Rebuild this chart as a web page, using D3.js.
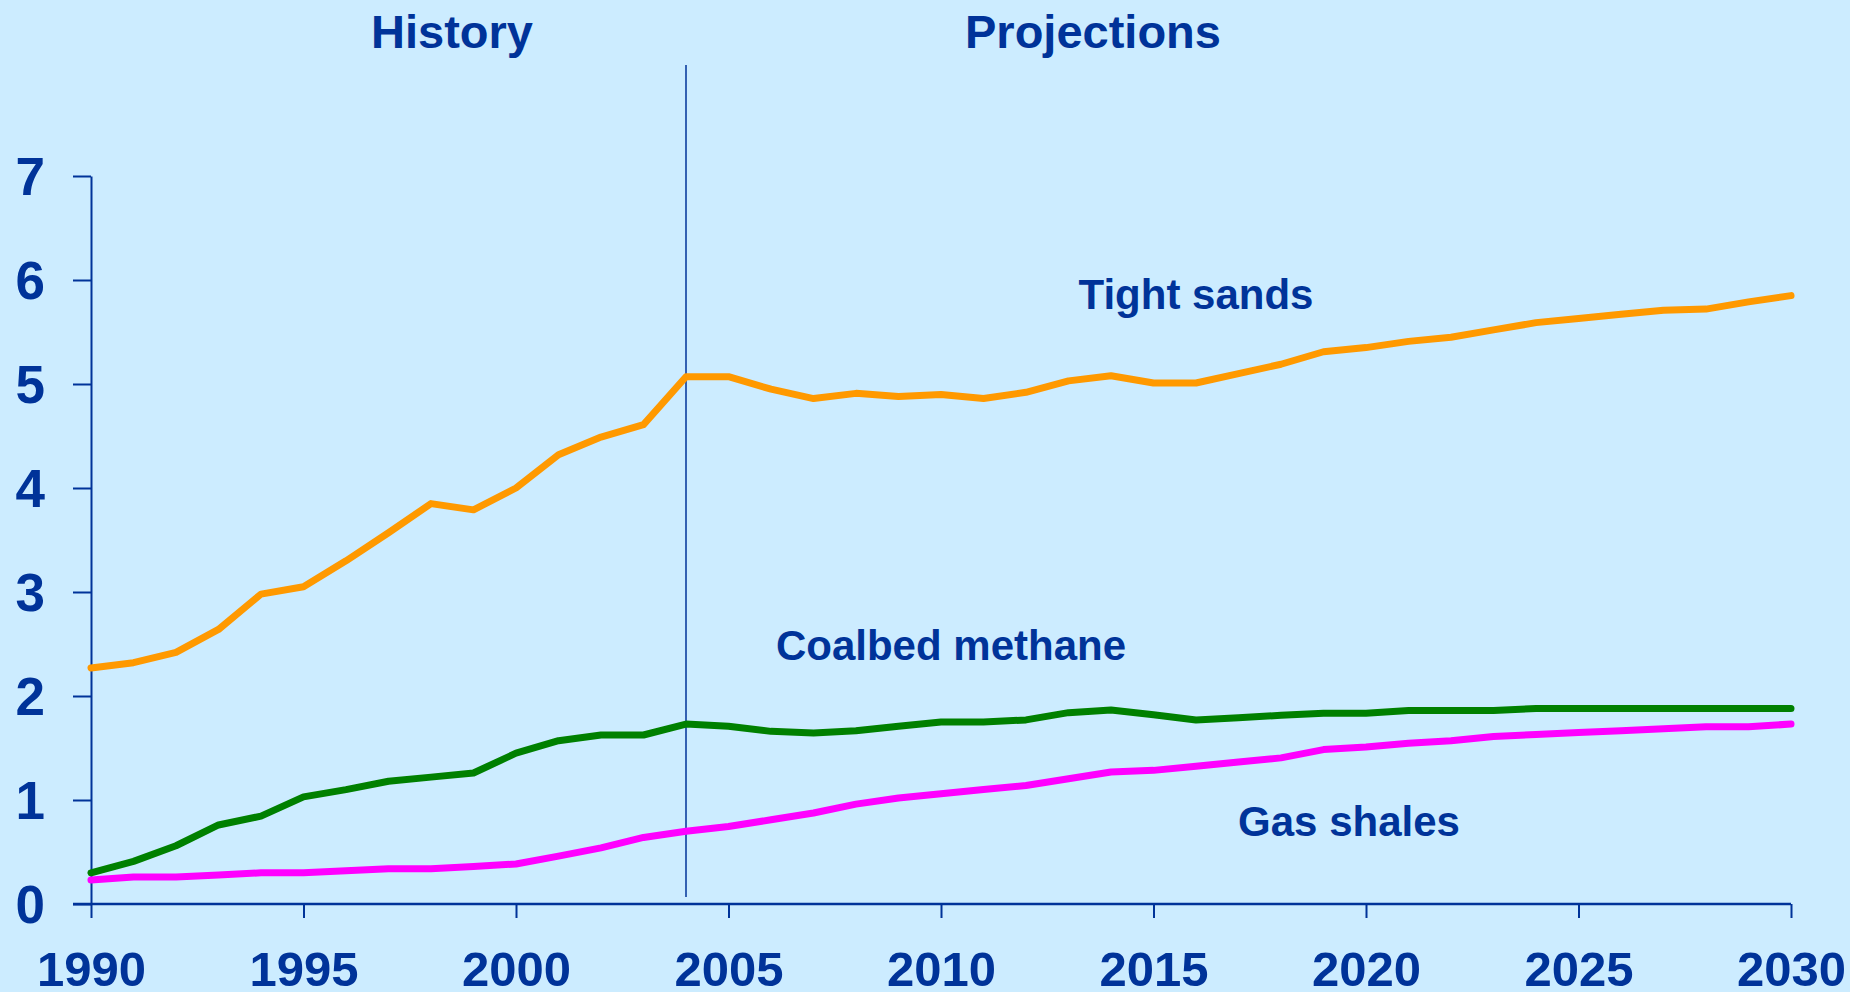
<!DOCTYPE html>
<html>
<head>
<meta charset="utf-8">
<script src="https://cdn.jsdelivr.net/npm/d3@7"></script>
<style>
  body { margin: 0; background: #CCECFF; }
  text { font-family: "Liberation Sans", Arial, sans-serif; font-weight: bold; fill: #003399; }
</style>
</head>
<body>
<div id="chart"></div>
<script>
// Data (trillion cubic feet)
const years = d3.range(1990, 2031);
const tightSands = [2.27, 2.32, 2.42, 2.64, 2.98, 3.05, 3.30, 3.57, 3.85, 3.79,
  4.00, 4.32, 4.49, 4.61, 5.07, 5.07, 4.95, 4.86, 4.91, 4.88,
  4.90, 4.86, 4.92, 5.03, 5.08, 5.01, 5.01, 5.10, 5.19, 5.31,
  5.35, 5.41, 5.45, 5.52, 5.59, 5.63, 5.67, 5.71, 5.72, 5.79, 5.85];
const coalbed = [0.30, 0.41, 0.56, 0.76, 0.845, 1.03, 1.10, 1.18, 1.22, 1.26,
  1.45, 1.57, 1.625, 1.625, 1.73, 1.71, 1.66, 1.645, 1.665, 1.71,
  1.75, 1.75, 1.77, 1.84, 1.865, 1.82, 1.77, 1.79, 1.815, 1.835,
  1.835, 1.86, 1.86, 1.86, 1.88, 1.88, 1.88, 1.88, 1.88, 1.88, 1.88];
const gasShales = [0.23, 0.26, 0.26, 0.28, 0.30, 0.30, 0.32, 0.34, 0.34, 0.36,
  0.385, 0.46, 0.54, 0.64, 0.70, 0.745, 0.81, 0.875, 0.96, 1.02,
  1.06, 1.10, 1.14, 1.205, 1.27, 1.285, 1.325, 1.365, 1.405, 1.485,
  1.51, 1.545, 1.57, 1.61, 1.63, 1.65, 1.665, 1.685, 1.705, 1.705, 1.73];
const xTicks = [1990, 1995, 2000, 2005, 2010, 2015, 2020, 2025, 2030];
const yTicks = [0, 1, 2, 3, 4, 5, 6, 7];
const splitYear = 2004;

const series = [
  {name: "Tight sands", values: tightSands, color: "#FF9900", lx: 1196, ly: 309},
  {name: "Coalbed methane", values: coalbed, color: "#008000", lx: 951, ly: 660},
  {name: "Gas shales", values: gasShales, color: "#FF00FF", lx: 1349, ly: 836}
];

const W = 1850, H = 992;
const svg = d3.select("#chart").append("svg")
    .attr("width", W)
    .attr("height", H);

svg.append("rect").attr("width", W).attr("height", H).attr("fill", "#CCECFF");

const x = d3.scaleLinear().domain([1990, 2030]).range([91, 1791]);
const y = d3.scaleLinear().domain([0, 7]).range([904, 176]);

// Y axis
const yAxis = svg.append("g")
    .attr("transform", `translate(${x(1990)},0)`)
    .call(d3.axisLeft(y).tickValues(yTicks).tickFormat(d3.format("d"))
      .tickSize(18).tickSizeOuter(0).tickPadding(28));
yAxis.select(".domain").attr("stroke", "#003399").attr("stroke-width", 2);
yAxis.selectAll(".tick line").attr("stroke", "#003399").attr("stroke-width", 2);
yAxis.selectAll(".tick text")
    .attr("dy", "0.345em")
    .style("font-size", "53px")
    .attr("fill", "#003399");

// X axis
const xAxis = svg.append("g")
    .attr("transform", `translate(0,${y(0)})`)
    .call(d3.axisBottom(x).tickValues(xTicks).tickSize(14).tickSizeOuter(0).tickFormat(d3.format("d")));
xAxis.select(".domain").remove();
xAxis.selectAll(".tick line").attr("stroke", "#003399").attr("stroke-width", 2);
xAxis.selectAll(".tick text")
    .attr("y", 82)
    .attr("dy", 0)
    .style("font-size", "49px")
    .attr("fill", "#003399");
svg.append("line")
    .attr("x1", x(1990) - 18).attr("x2", x(2030))
    .attr("y1", y(0)).attr("y2", y(0))
    .attr("stroke", "#003399").attr("stroke-width", 2.5);

// History / projections divider
svg.append("line")
    .attr("x1", x(splitYear)).attr("x2", x(splitYear))
    .attr("y1", 65).attr("y2", y(0) - 7)
    .attr("stroke", "#003399").attr("stroke-width", 1.5);

svg.append("text").attr("x", 452).attr("y", 48)
    .attr("text-anchor", "middle").style("font-size", "47px").text("History");
svg.append("text").attr("x", 1093).attr("y", 48)
    .attr("text-anchor", "middle").style("font-size", "47px").text("Projections");

// Lines
const line = d3.line()
    .x((d, i) => x(years[i]))
    .y(d => y(d));

series.forEach(s => {
  svg.append("path")
      .datum(s.values)
      .attr("fill", "none")
      .attr("stroke", s.color)
      .attr("stroke-width", 7)
      .attr("stroke-linejoin", "round")
      .attr("stroke-linecap", "round")
      .attr("d", line);

  svg.append("text")
      .attr("x", s.lx).attr("y", s.ly)
      .attr("text-anchor", "middle")
      .style("font-size", "42px")
      .text(s.name);
});
</script>
</body>
</html>
